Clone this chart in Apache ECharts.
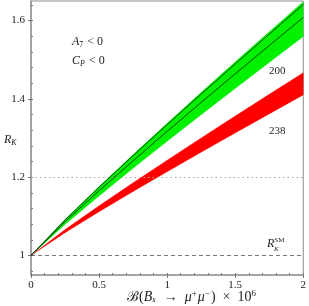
<!DOCTYPE html>
<html><head><meta charset="utf-8">
<script src="https://cdn.jsdelivr.net/npm/echarts@6/dist/echarts.min.js"></script>
<style>html,body{margin:0;padding:0;background:#fff}#c{width:309px;height:306px}</style>
</head><body><div id="c"></div>
<script>
const xs = [0, 0.25, 0.5, 0.75, 1, 1.25, 1.5, 1.75, 2];
const greenUpper = [1, 1.0918, 1.1761, 1.2578, 1.3378, 1.4166, 1.4945, 1.5716, 1.648];
const greenLower = [1, 1.0792, 1.1519, 1.2224, 1.2914, 1.3594, 1.4266, 1.4931, 1.559];
const greenLine1 = [1, 1.0908, 1.1741, 1.2550, 1.3341, 1.4120, 1.4890, 1.5653, 1.641];
const greenLine2 = [1, 1.0861, 1.1652, 1.2418, 1.3169, 1.3908, 1.4639, 1.5362, 1.608];
const redUpper = [1, 1.0661, 1.1269, 1.1857, 1.2434, 1.3002, 1.3563, 1.4118, 1.467];
const redLower = [1, 1.0581, 1.1114, 1.1631, 1.2137, 1.2636, 1.3129, 1.3616, 1.410];
const yMajorTicks = [1, 1.2, 1.4, 1.6];
const yMinorTicks = [0.96, 1.0, 1.04, 1.08, 1.12, 1.16, 1.2, 1.24, 1.28, 1.32, 1.36, 1.4, 1.44, 1.48, 1.52, 1.56, 1.6, 1.64];
const xMajorTicks = [0, 0.5, 1, 1.5, 2];
const xMinorTicks = [0, 0.1, 0.2, 0.3, 0.4, 0.5, 0.6, 0.7, 0.8, 0.9, 1, 1.1, 1.2, 1.3, 1.4, 1.5, 1.6, 1.7, 1.8, 1.9, 2];
const refDotted = 1.2;
const refDashed = 1;
const bandLabels = ['200', '238'];

const SERIF = '"Liberation Serif", "DejaVu Serif", serif';
const chart = echarts.init(document.getElementById('c'), null, {renderer: 'canvas'});

function band(upper, lower, color) {
  return {
    type: 'custom', coordinateSystem: 'cartesian2d', silent: true, clip: true,
    data: [[0, 1]],
    renderItem: function (params, api) {
      const pts = [];
      for (let i = 0; i < xs.length; i++) pts.push(api.coord([xs[i], upper[i]]));
      for (let i = xs.length - 1; i >= 0; i--) pts.push(api.coord([xs[i], lower[i]]));
      return {type: 'polygon', shape: {points: pts}, style: {fill: color, stroke: color, lineWidth: 0.3}};
    }
  };
}
function line(vals) {
  return {type: 'line', data: xs.map((x, i) => [x, vals[i]]), showSymbol: false, silent: true,
    lineStyle: {color: '#000', width: 0.7}, z: 5};
}

const axisCommon = {min: 0.95, max: 1.65};
const T = '#222';
chart.setOption({
  animation: false,
  grid: {left: 31, right: 3, top: 1, bottom: 31, show: true, borderColor: '#8c8c8c', borderWidth: 1},
  xAxis: [
    {type: 'value', min: 0, max: 2, position: 'bottom',
      axisLine: {show: true, lineStyle: {color: '#999', width: 1.5}},
      axisTick: {show: true, customValues: xMajorTicks, length: 3, inside: false, lineStyle: {color: '#777'}},
      axisLabel: {show: true, customValues: xMajorTicks, margin: 5, color: T, fontFamily: SERIF, fontSize: 11,
        formatter: v => String(v)},
      splitLine: {show: false}},
    {type: 'value', min: 0, max: 2, position: 'bottom', gridIndex: 0,
      axisLine: {show: false},
      axisTick: {show: true, customValues: xMinorTicks, length: 2, inside: true, lineStyle: {color: '#777'}},
      axisLabel: {show: false}, splitLine: {show: false}}
  ],
  yAxis: [
    Object.assign({type: 'value', position: 'left',
      axisLine: {show: true, lineStyle: {color: '#999', width: 1.5}},
      axisTick: {show: true, customValues: yMajorTicks, length: 3, inside: false, lineStyle: {color: '#777'}},
      axisLabel: {show: true, customValues: yMajorTicks, margin: 6, color: T, fontFamily: SERIF, fontSize: 11,
        formatter: v => String(v)},
      splitLine: {show: false}}, axisCommon),
    Object.assign({type: 'value', position: 'left',
      axisLine: {show: false},
      axisTick: {show: true, customValues: yMinorTicks, length: 2, inside: true, lineStyle: {color: '#777'}},
      axisLabel: {show: false}, splitLine: {show: false}}, axisCommon)
  ],
  series: [
    Object.assign(band(redUpper, redLower, '#ff0000'), {z: 2}),
    Object.assign(band(greenUpper, greenLower, '#00f000'), {z: 3}),
    line(greenLine1),
    line(greenLine2),
    {type: 'line', data: [], silent: true, z: 1,
      markLine: {silent: true, symbol: 'none', label: {show: false}, animation: false,
        data: [
          {yAxis: refDotted, lineStyle: {color: '#aaa', type: [1.5, 3], width: 1}},
          {yAxis: refDashed, lineStyle: {color: '#555', type: [4, 3], width: 0.8}}
        ]}}
  ],
  graphic: [
    {type: 'text', left: 72, top: 36, style: {
      text: '{i|A}{s|7}{n| < 0}',
      rich: {i: {fontStyle: 'italic', fontSize: 12, fontFamily: SERIF, fill: T},
             s: {fontSize: 8, fontFamily: SERIF, padding: [5, 1, 0, 0], fill: T},
             n: {fontSize: 12, fontFamily: SERIF, fill: T}}}},
    {type: 'text', left: 72, top: 55, style: {
      text: '{i|C}{s|P}{n| < 0}',
      rich: {i: {fontStyle: 'italic', fontSize: 12, fontFamily: SERIF, fill: T},
             s: {fontStyle: 'italic', fontSize: 8, fontFamily: SERIF, padding: [5, 1, 0, 0], fill: T},
             n: {fontSize: 12, fontFamily: SERIF, fill: T}}}},
    {type: 'text', left: 269, top: 66, style: {text: bandLabels[0], font: '11px ' + SERIF, fill: T}},
    {type: 'text', left: 269, top: 126, style: {text: bandLabels[1], font: '11px ' + SERIF, fill: T}},
    {type: 'text', left: 4, top: 134, style: {
      text: '{i|R}{s|K}', rich: {i: {fontStyle: 'italic', fontSize: 12, fontFamily: SERIF, fill: T},
        s: {fontStyle: 'italic', fontSize: 8, fontFamily: SERIF, padding: [5, 0, 0, 0], fill: T}}}},
    {type: 'text', left: 267, top: 237, style: {
      text: '{i|R}{s|SM}', rich: {i: {fontStyle: 'italic', fontSize: 12, fontFamily: SERIF, fill: T},
        s: {fontSize: 7, fontFamily: SERIF, padding: [0, 0, 7, 0], fill: T}}}},
    {type: 'text', left: 274, top: 246, style: {text: 'K', font: 'italic 7px ' + SERIF, fill: T}},
    {type: 'text', left: 127, top: 289, style: {
      text: '{b|ℬ}{n|(}{i|B}{s|s}{n|  →  }{i|μ}{p|+}{i|μ}{p|−}{n|)  ×  10}{p|6}',
      rich: {b: {fontSize: 14, fontFamily: SERIF, fill: T},
             n: {fontSize: 14, fontFamily: SERIF, fill: T},
             i: {fontStyle: 'italic', fontSize: 14, fontFamily: SERIF, fill: T},
             s: {fontStyle: 'italic', fontSize: 9, fontFamily: SERIF, padding: [5, 1, 0, 0], fill: T},
             p: {fontSize: 9, fontFamily: SERIF, padding: [0, 1, 7, 0], fill: T}}}}
  ]
});
</script></body></html>
